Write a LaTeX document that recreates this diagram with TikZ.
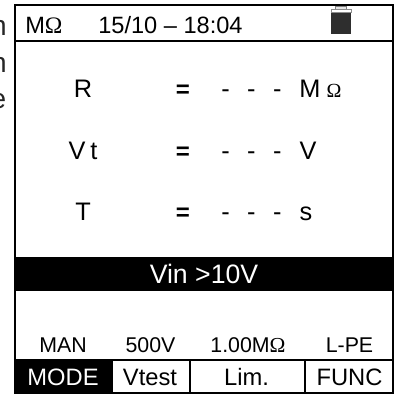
\documentclass[tikz,border=0pt]{standalone}
\usepackage{fontspec}
\setmainfont{Liberation Sans}
\newfontfamily\omegafont{Liberation Serif}
\tikzset{
	lcdbig/.style={font=\fontsize{19}{21}\selectfont, inner sep=0pt, anchor=base},
	lcdeq/.style={font=\bfseries\fontsize{18}{20}\selectfont, inner sep=0pt, anchor=base},
	lcddash/.style={font=\fontsize{19}{21}\selectfont, inner sep=0pt, anchor=base west},
	lcdhead/.style={font=\fontsize{17.7}{20}\selectfont, inner sep=0pt, anchor=base west},
	lcdsmall/.style={font=\fontsize{16}{18}\selectfont, inner sep=0pt, anchor=base},
	lcdkey/.style={font=\fontsize{17.8}{20}\selectfont, inner sep=0pt, anchor=base},
	lcdcut/.style={font=\fontsize{21}{23}\selectfont, inner sep=0pt, anchor=base east, text=black!85},
}
\begin{document}
\begin{tikzpicture}[x=0.75pt, y=-0.75pt]
		%%%%% START %%%%%
		\useasboundingbox (0, 0) rectangle (396, 394);
		
		\begin{scope}
			\clip (0, 0) rectangle (6, 394);
			\node[lcdcut] (cutn1) at (7, 35) {n};
			\node[lcdcut] (cutn2) at (7, 72) {n};
			\node[lcdcut] (cute) at (6.5, 108) {e};
		\end{scope}
		
		\fill[black] (14, 257) rectangle (394, 291);
		\fill[black] (14, 360) rectangle (113, 394);
		
		\draw[line width=1.5pt] (15, 5.3) rectangle (393, 393);
		\draw[line width=1.5pt] (15, 41) -- (393, 41);
		\draw[line width=1.5pt] (15, 360) -- (393, 360);
		\draw[line width=1.5pt] (190, 360) -- (190, 393);
		\draw[line width=1.5pt] (305, 360) -- (305, 393);
		
		\node[lcdhead] (unit) at (25, 33) {M{\omegafont Ω}};
		\node[lcdhead] (clock) at (98, 33) {15/10 -- 18:04};
		
		\draw[fill=black!10, draw=black!50] (335.5, 6) rectangle (346.5, 9.5);
		\fill[black!82] (331, 9) rectangle (351, 34);
		\draw[fill=white, draw=black!45, line width=0.4pt] (331, 9.5) rectangle (351, 12.5);
		
		\node[lcdbig] (rname) at (83, 97) {R};
		\node[lcdeq] (req) at (183, 97) {=};
		\node[lcddash] (rval) at (221, 97) {-\hspace{0.69em}-\hspace{0.69em}-};
		\node[lcdbig] (runit) at (310, 97) {M};
		\node[lcdbig, font=\omegafont\fontsize{15}{17}\selectfont] (rohm) at (334, 97) {Ω};
		
		\node[lcdbig] (vname) at (83, 159) {V\hspace{0.2em}t};
		\node[lcdeq] (veq) at (183, 159) {=};
		\node[lcddash] (vval) at (221, 159) {-\hspace{0.69em}-\hspace{0.69em}-};
		\node[lcdbig] (vunit) at (308, 159) {V};
		
		\node[lcdbig] (tname) at (83, 220) {T};
		\node[lcdeq] (teq) at (183, 220) {=};
		\node[lcddash] (tval) at (221, 220) {-\hspace{0.69em}-\hspace{0.69em}-};
		\node[lcdbig] (tunit) at (306, 220) {s};
		
		\node[lcdbig, text=white, font=\fontsize{20}{22}\selectfont] (warn) at (204, 283) {Vin >10V};
		
		\node[lcdsmall] (mode) at (63, 352) {MAN};
		\node[lcdsmall] (volt) at (150.5, 352) {500V};
		\node[lcdsmall] (limit) at (248, 352) {1.00M{\omegafont Ω}};
		\node[lcdsmall] (func) at (349.5, 352) {L-PE};
		
		\node[lcdkey, text=white] (keymode) at (63, 385) {MODE};
		\node[lcdkey] (keyvtest) at (150, 385) {Vtest};
		\node[lcdkey] (keylim) at (246.5, 385) {Lim.};
		\node[lcdkey] (keyfunc) at (349.5, 385) {FUNC};
		%%%%% END %%%%%
	\end{tikzpicture}
\end{document}
